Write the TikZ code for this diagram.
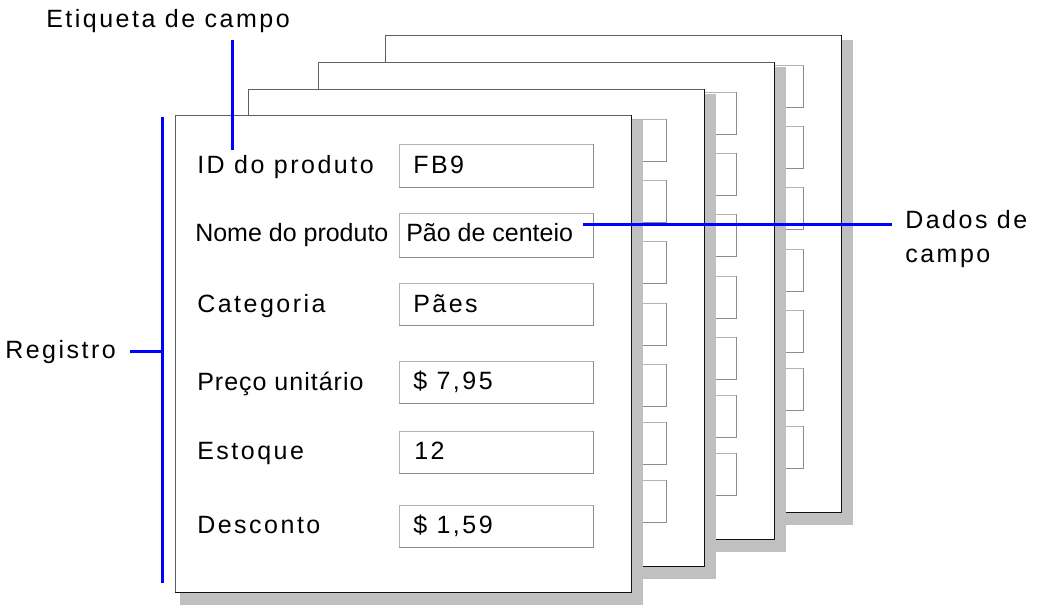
\documentclass[tikz,border=0pt]{standalone}
\usepackage{fontspec}
\setmainfont{Liberation Sans}
\newfontfamily\trackfont[LetterSpace=10]{Liberation Sans}
\newfontfamily\lighttrack[LetterSpace=4]{Liberation Sans}
\definecolor{shadowgray}{HTML}{C0C0C0}
\definecolor{cardtlc}{HTML}{606060}
\definecolor{cardbrc}{HTML}{101010}
\definecolor{boxtlc}{HTML}{B4B4B4}
\definecolor{boxbrc}{HTML}{8C8C8C}
\definecolor{callblue}{HTML}{0000FF}
\tikzset{
  cardtl/.style={draw=cardtlc, line width=0.75pt},
  cardbr/.style={draw=cardbrc, line width=0.75pt},
  boxtl/.style={draw=boxtlc, line width=0.75pt},
  boxbr/.style={draw=boxbrc, line width=0.75pt},
  callout/.style={draw=callblue, line width=2.25pt},
  lab/.style={anchor=base west, inner sep=0pt, font=\fontsize{18.75}{22}\selectfont\trackfont},
  labplain/.style={anchor=base west, inner sep=0pt, font=\fontsize{18.75}{22}\selectfont},
  lablight/.style={anchor=base west, inner sep=0pt, font=\fontsize{18.75}{22}\selectfont\lighttrack},
}
\newcommand\fieldbox[3]{%
  \fill[white] (#1,#2) rectangle (#1+194,#2+#3);
  \draw[boxtl] (#1,#2+#3) -- (#1,#2) -- (#1+194,#2);
  \draw[boxbr] (#1+194,#2) -- (#1+194,#2+#3) -- (#1,#2+#3);
}
\newcommand\cardbase[2]{%
  \fill[shadowgray] (#1+5,#2+5) rectangle (#1+468,#2+490);
  \fill[white] (#1,#2) rectangle (#1+456,#2+477);
  \draw[cardtl] (#1,#2+477) -- (#1,#2) -- (#1+456,#2);
  \draw[cardbr] (#1+456,#2) -- (#1+456,#2+477) -- (#1,#2+477);
}
\newcommand\backcard[2]{%
  \cardbase{#1}{#2}
  \foreach \t in {30,91,152,214,275,333,391} {\fieldbox{#1+224}{#2+\t}{42}}
}
\begin{document}
\begin{tikzpicture}[x=0.75pt, y=-0.75pt]
\useasboundingbox (0,0) rectangle (1046,612);
\fill[white] (0,0) rectangle (1046,612);
% back cards
\backcard{385}{35}
\backcard{318}{62}
\backcard{248}{89}
% front card
\cardbase{175}{115}
\fieldbox{399}{144}{43}
\fieldbox{399}{213}{44}
\fieldbox{399}{283}{42}
\fieldbox{399}{361}{42}
\fieldbox{399}{431}{42}
\fieldbox{399}{505}{42}
% labels
\node[lab] (lid) at (197,173) {ID do produto};
\node[labplain] (lnome) at (195,241) {Nome do produto};
\node[lab] (lcat) at (197,312) {Categoria};
\node[lablight] (lpreco) at (197,390) {Preço unitário};
\node[lab] (lest) at (197,459) {Estoque};
\node[lab] (ldesc) at (197,533) {Desconto};
% values
\node[lab] (vid) at (413,173) {FB9};
\node[labplain] (vnome) at (406,241) {Pão de centeio};
\node[lab] (vcat) at (413,312) {Pães};
\node[lab] (vpreco) at (413,389) {\$ 7,95};
\node[lab] (vest) at (414,459) {12};
\node[lab] (vdesc) at (413,533) {\$ 1,59};
% callout texts
\node[lab] (etq) at (46,27) {Etiqueta de campo};
\node[lab] (reg) at (5,358) {Registro};
\node[lab] (dados1) at (905,228) {Dados de};
\node[lab] (dados2) at (905,262) {campo};
% callout lines
\coordinate (etqA) at (232,40);
\coordinate (etqB) at (232,150);
\draw[callout] (etqA) -- (etqB);
\coordinate (regTop) at (162,117);
\coordinate (regBot) at (162,583);
\coordinate (regMid) at (162,351);
\coordinate (regTick) at (130,351);
\draw[callout] (regTop) -- (regBot);
\draw[callout] (regTick) -- (regMid);
\coordinate (dadA) at (583,224);
\coordinate (dadB) at (892,224);
\draw[callout] (dadA) -- (dadB);
\end{tikzpicture}
\end{document}
